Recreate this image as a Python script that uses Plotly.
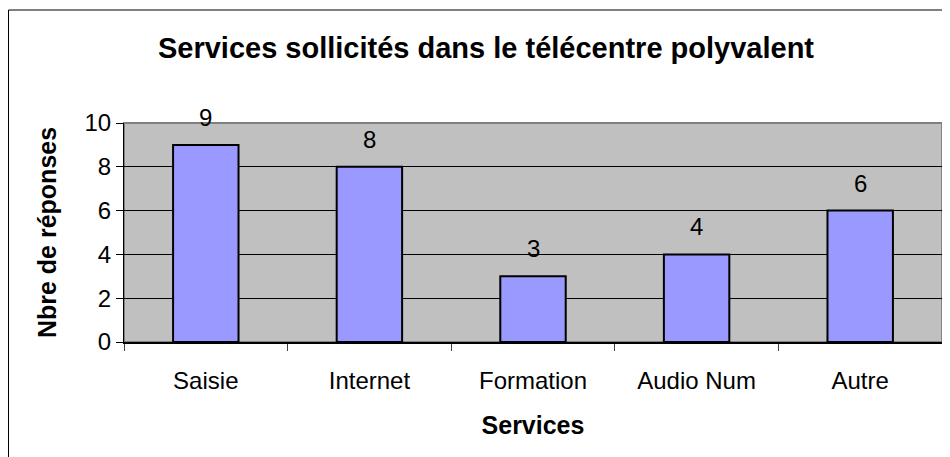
import plotly.graph_objects as go

# Données du graphique
services = ['Saisie', 'Internet', 'Formation', 'Audio Num', 'Autre']
reponses = [9, 8, 3, 4, 6]
y_ticks = [0, 2, 4, 6, 8, 10]

FONT = 'Arial, Liberation Sans, sans-serif'

# la page ajoute une marge de 8 px : figure réduite en conséquence
W, H = 942, 449
L, R, T, B = 116, 8, 115, 115
PW, PH = W - L - R, H - T - B

fig = go.Figure()

fig.add_trace(go.Bar(
    x=services,
    y=reponses,
    width=0.4,
    marker=dict(color='#9999FF', line=dict(color='black', width=2)),
    hoverinfo='x+y',
))

# étiquettes de valeurs au-dessus des barres
for s, v in zip(services, reponses):
    fig.add_annotation(
        x=s, y=v, text=str(v), showarrow=False,
        yanchor='bottom', yshift=12,
        font=dict(family=FONT, size=24, color='black'),
    )

fig.update_layout(
    width=W, height=H,
    paper_bgcolor='white',
    plot_bgcolor='#C0C0C0',
    showlegend=False,
    font=dict(family=FONT, color='black'),
    margin=dict(l=L, r=R, t=T, b=B, autoexpand=False),
    title=dict(
        text='<b>Services sollicités dans le télécentre polyvalent</b>',
        x=478 / W, xref='container', xanchor='center',
        y=1 - 40 / H, yref='container', yanchor='middle',
        font=dict(size=29, color='black'),
    ),
    shapes=[
        # cadre du graphique
        dict(type='rect', xref='paper', yref='paper',
             x0=-(L - 0.5) / PW, x1=1.05, y0=-0.7, y1=1 + (T - 2) / PH,
             line=dict(color='black', width=1), fillcolor='rgba(0,0,0,0)',
             layer='below'),
        # bordure de la zone de tracé
        dict(type='rect', xref='paper', yref='paper',
             x0=0, x1=1, y0=0, y1=1,
             line=dict(color='#808080', width=2), fillcolor='rgba(0,0,0,0)',
             layer='below'),
    ],
)

fig.update_xaxes(
    title=dict(text='<b>Services</b>', font=dict(size=25), standoff=24),
    tickfont=dict(size=24),
    ticks='outside', ticklen=7, tickcolor='#404040', tickwidth=1,
    tickson='boundaries',
    ticklabelstandoff=16,
    showline=True, linecolor='black', linewidth=2,
    showgrid=False,
    automargin=False,
)

fig.update_yaxes(
    title=dict(text='<b>Nbre de réponses</b>', font=dict(size=25), standoff=20),
    range=[0, 10],
    tickvals=y_ticks,
    tickfont=dict(size=24),
    ticks='outside', ticklen=7, tickcolor='black', tickwidth=1,
    showline=True, linecolor='black', linewidth=1,
    showgrid=True, gridcolor='black', gridwidth=1,
    zeroline=False,
    automargin=False,
)

fig.write_html('out.html')
